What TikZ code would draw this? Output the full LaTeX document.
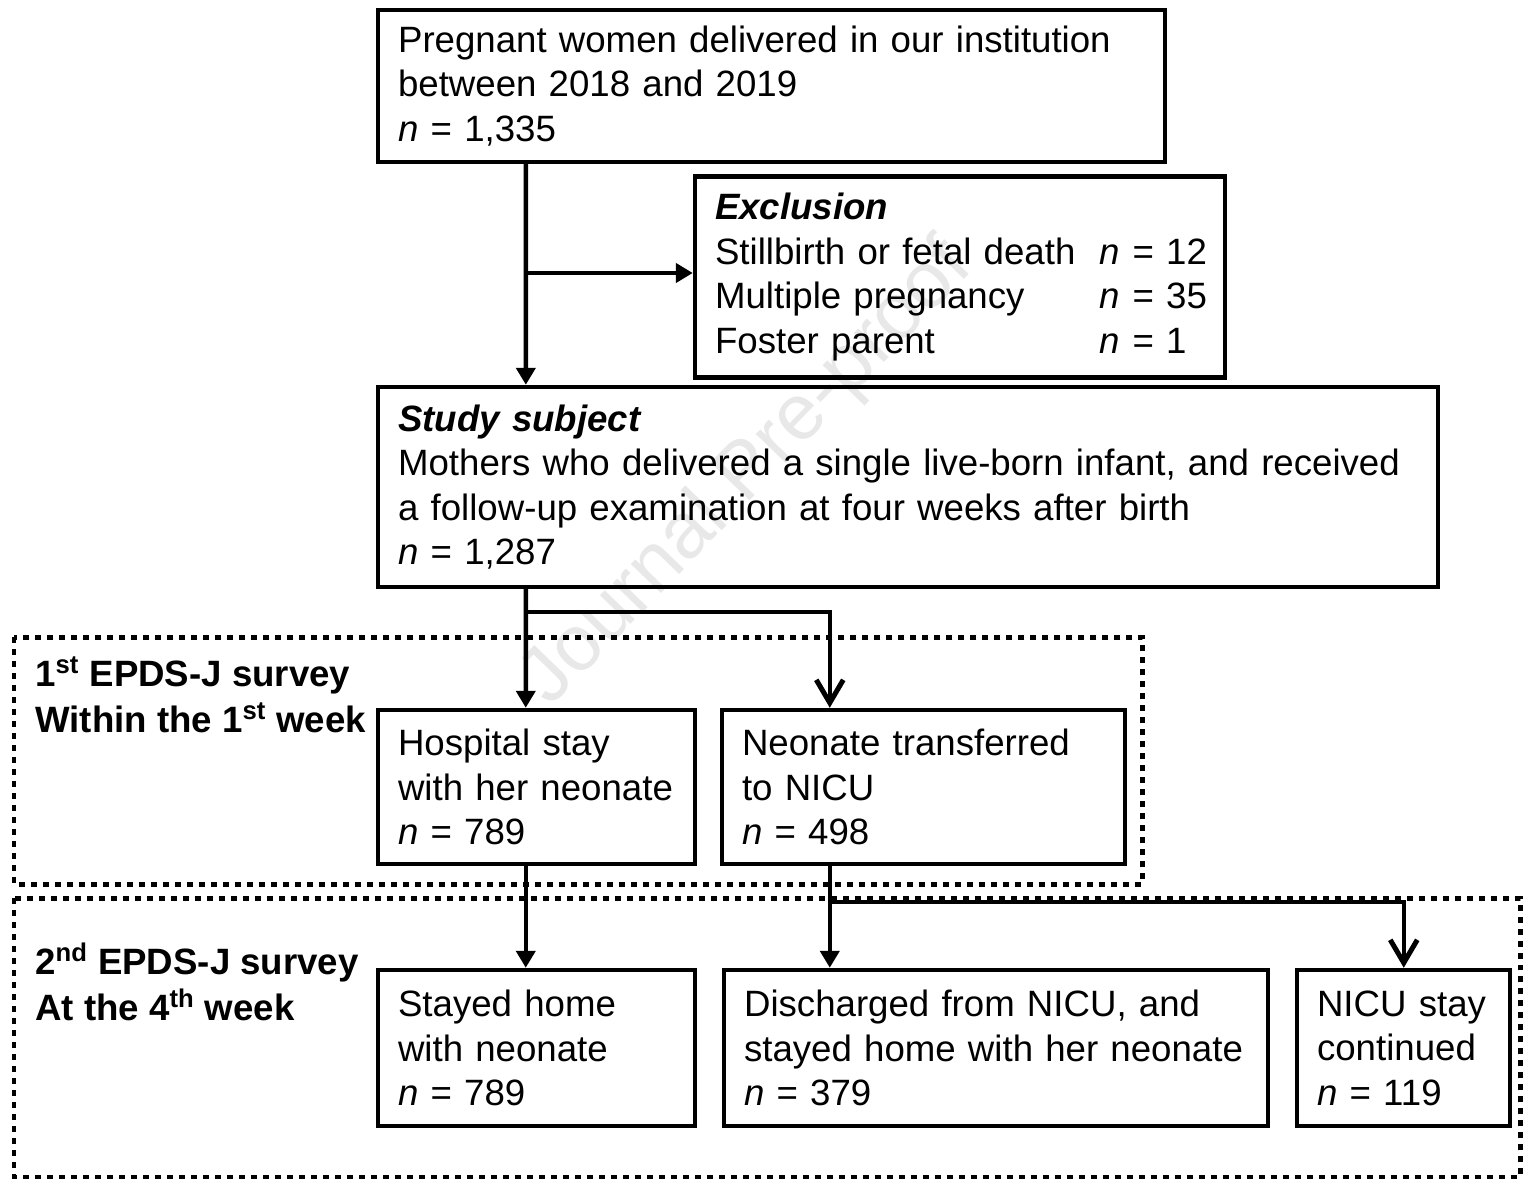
\documentclass[tikz,border=0pt]{standalone}
\usepackage{fontspec}
\setmainfont{Liberation Sans}
\usetikzlibrary{arrows.meta,positioning}

\begin{document}
\begin{tikzpicture}[x=0.02cm,y=-0.02cm,
    box/.style={draw,line width=0.09cm,rectangle,inner xsep=0.4cm,inner ysep=0pt,align=left,font=\fontsize{20.85}{25.3}\selectfont},
    flow/.style={line width=0.09cm,-{Triangle[length=0.34cm,width=0.38cm]}},
    openflow/.style={line width=0.09cm,-{Straight Barb[length=0.46cm,width=0.54cm,line width=0.1cm]}},
    survey/.style={line width=0.1cm,dash pattern=on 0.12cm off 0.12cm},
    stage/.style={anchor=west,inner sep=0pt,align=left,font=\bfseries\fontsize{20.85}{26}\selectfont}]
                \useasboundingbox (0,0) rectangle (1524,1179);
                \node [text=black!9,rotate=46,font=\fontsize{45}{50}\selectfont] (mark) at (748,474) {Journal Pre-proof};
                \draw [survey] (14,637) rectangle (1142,884);
                \draw [survey] (14,898) rectangle (1520,1177);
                \node [stage] (first) at (35,695) {1\textsuperscript{st} EPDS-J survey\\Within the 1\textsuperscript{st} week};
                \node [stage] (second) at (35,982) {2\textsuperscript{nd} EPDS-J survey\\At the 4\textsuperscript{th} week};
                \node [box,minimum width=15.74cm,minimum height=3.04cm,text width=14.94cm] (pregnant) at (771.5,86) {Pregnant women delivered in our institution\\between 2018 and 2019\\\textit{n} = 1,335};
                \node [box,minimum width=10.6cm,minimum height=4.02cm,text width=9.8cm] (excl) at (960,277) {\textbf{\textit{Exclusion}}\\\makebox[7.7cm][l]{Stillbirth or fetal death}\mbox{\textit{n} = 12}\\\makebox[7.7cm][l]{Multiple pregnancy}\mbox{\textit{n} = 35}\\\makebox[7.7cm][l]{Foster parent}\mbox{\textit{n} = 1}};
                \node [box,minimum width=21.2cm,minimum height=4cm,text width=20.4cm] (study) at (908,487) {\textbf{\textit{Study subject}}\\Mothers who delivered a single live-born infant, and received\\a follow-up examination at four weeks after birth\\\textit{n} = 1,287};
                \node [box,minimum width=6.34cm,minimum height=3.08cm,text width=5.54cm] (hosp) at (536.5,787) {Hospital stay\\with her neonate\\\textit{n} = 789};
                \node [box,minimum width=8.06cm,minimum height=3.08cm,text width=7.26cm] (nicu) at (923.5,787) {Neonate transferred\\to NICU\\\textit{n} = 498};
                \node [box,minimum width=6.34cm,minimum height=3.12cm,text width=5.54cm] (home) at (536.5,1048) {Stayed home\\with neonate\\\textit{n} = 789};
                \node [box,minimum width=10.88cm,minimum height=3.12cm,text width=10.08cm] (disch) at (996,1048) {Discharged from NICU, and\\stayed home with her neonate\\\textit{n} = 379};
                \node [box,minimum width=4.26cm,minimum height=3.12cm,text width=3.46cm] (stay) at (1403.5,1048) {NICU stay\\continued\\\textit{n} = 119};
                \coordinate (split1) at (528,273);
                \coordinate (split2) at (528,612);
                \coordinate (split3) at (832,902);
                \coordinate (nicuout) at ([xshift=2.2cm]nicu.south west);
                \draw [flow] ([xshift=3cm]pregnant.south west) -- ([xshift=3cm]study.north west);
                \draw [flow] (split1) -- (split1 -| excl.west);
                \draw [flow] ([xshift=3cm]study.south west) -- ([xshift=3cm]hosp.north west);
                \draw [openflow] (split2) -| ([xshift=2.2cm]nicu.north west);
                \draw [flow] ([xshift=3cm]hosp.south west) -- ([xshift=3cm]home.north west);
                \draw [flow] (nicuout) -- (nicuout |- disch.north);
                \draw [openflow] (split3) -| ([xshift=2.18cm]stay.north west);
            \end{tikzpicture}
\end{document}
